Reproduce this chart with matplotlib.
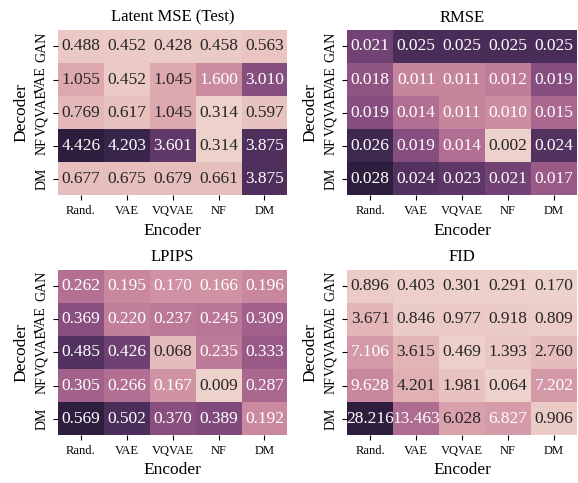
import matplotlib
matplotlib.use("Agg")
import matplotlib.pyplot as plt
import numpy as np
import seaborn as sns

plt.rcParams["font.family"] = "serif"
plt.rcParams["font.serif"] = ["Liberation Serif", "DejaVu Serif"]

encoders = ["Rand.", "VAE", "VQVAE", "NF", "DM"]
decoders = ["GAN", "VAE", "VQVAE", "NF", "DM"]

latent_mse = [
    [0.488, 0.452, 0.428, 0.458, 0.563],
    [1.055, 0.452, 1.045, 1.600, 3.010],
    [0.769, 0.617, 1.045, 0.314, 0.597],
    [4.426, 4.203, 3.601, 0.314, 3.875],
    [0.677, 0.675, 0.679, 0.661, 3.875],
]
rmse = [
    [0.021, 0.025, 0.025, 0.025, 0.025],
    [0.018, 0.011, 0.011, 0.012, 0.019],
    [0.019, 0.014, 0.011, 0.010, 0.015],
    [0.026, 0.019, 0.014, 0.002, 0.024],
    [0.028, 0.024, 0.023, 0.021, 0.017],
]
lpips = [
    [0.262, 0.195, 0.170, 0.166, 0.196],
    [0.369, 0.220, 0.237, 0.245, 0.309],
    [0.485, 0.426, 0.068, 0.235, 0.333],
    [0.305, 0.266, 0.167, 0.009, 0.287],
    [0.569, 0.502, 0.370, 0.389, 0.192],
]
fid = [
    [0.896, 0.403, 0.301, 0.291, 0.170],
    [3.671, 0.846, 0.977, 0.918, 0.809],
    [7.106, 3.615, 0.469, 1.393, 2.760],
    [9.628, 4.201, 1.981, 0.064, 7.202],
    [28.216, 13.463, 6.028, 6.827, 0.906],
]

titles = ["Latent MSE (Test)", "RMSE", "LPIPS", "FID"]
tables = [latent_mse, rmse, lpips, fid]

cmap = sns.cubehelix_palette(as_cmap=True)

fig, axes = plt.subplots(2, 2, figsize=(5.78, 4.83), dpi=100)
fig.subplots_adjust(left=0.100, right=0.998, top=0.938, bottom=0.099,
                    wspace=0.26, hspace=0.45)

for ax, title, data in zip(axes.flat, titles, tables):
    sns.heatmap(np.array(data), ax=ax, cmap=cmap, annot=True, fmt=".3f",
                cbar=False, annot_kws={"fontsize": 12.5},
                xticklabels=encoders, yticklabels=decoders)
    ax.set_title(title, fontsize=12)
    ax.set_xlabel("Encoder", fontsize=12.5)
    ax.set_ylabel("Decoder", fontsize=12.5)
    ax.tick_params(axis="x", labelsize=9, rotation=0)
    ax.tick_params(axis="y", labelsize=10)
    plt.setp(ax.get_yticklabels(), rotation=90, va="center")

plt.savefig("out.png", dpi=100)
plt.close()
